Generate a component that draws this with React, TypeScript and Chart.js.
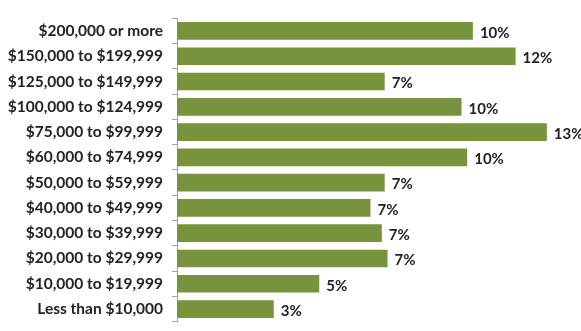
import React, { useEffect, useRef } from "react";
import { Chart, registerables } from "chart.js";

Chart.register(...registerables);

const categories = [
  "$200,000 or more",
  "$150,000 to $199,999",
  "$125,000 to $149,999",
  "$100,000 to $124,999",
  "$75,000 to $99,999",
  "$60,000 to $74,999",
  "$50,000 to $59,999",
  "$40,000 to $49,999",
  "$30,000 to $39,999",
  "$20,000 to $29,999",
  "$10,000 to $19,999",
  "Less than $10,000",
];

const values = [10.4, 11.9, 7.3, 10.0, 13.0, 10.2, 7.3, 6.8, 7.2, 7.4, 5.0, 3.4];

const valueLabels = ["10%", "12%", "7%", "10%", "13%", "10%", "7%", "7%", "7%", "7%", "5%", "3%"];

const xMax = 14.2;

const barLabelPlugin = {
  id: "barLabels",
  afterDatasetsDraw(chart: any) {
    const ctx = chart.ctx;
    const meta = chart.getDatasetMeta(0);
    ctx.save();
    ctx.font = "bold 15px Lato";
    ctx.fillStyle = "#222222";
    ctx.textAlign = "left";
    ctx.textBaseline = "middle";
    meta.data.forEach((bar: any, i: number) => {
      ctx.fillText(valueLabels[i], bar.x + 7, bar.y + 2);
    });
    ctx.restore();
  },
};

export default function App() {
  const ref = useRef<HTMLCanvasElement | null>(null);

  useEffect(() => {
    if (!ref.current) return;
    const chart = new Chart(ref.current, {
      type: "bar",
      data: {
        labels: categories,
        datasets: [
          {
            data: values,
            backgroundColor: "#77933C",
            borderWidth: 0,
            categoryPercentage: 1,
            barPercentage: 0.7,
          },
        ],
      },
      options: {
        indexAxis: "y",
        animation: false,
        responsive: false,
        devicePixelRatio: 1,
        layout: { padding: { top: 5, bottom: 8, left: 0, right: 0 } },
        plugins: {
          legend: { display: false },
          tooltip: { enabled: false },
        },
        scales: {
          x: { display: false, min: 0, max: xMax },
          y: {
            afterFit: (scale: any) => {
              scale.width = 177;
            },
            grid: {
              drawOnChartArea: false,
              offset: true,
              tickLength: 5,
              color: "#a0a0a0",
            },
            border: { color: "#a0a0a0" },
            ticks: {
              padding: 9,
              color: "#222222",
              font: { family: "Lato", size: 15.5, weight: "bold" },
            },
          },
        },
      },
      plugins: [barLabelPlugin],
    });
    return () => chart.destroy();
  }, []);

  return (
    <div
      style={{
        position: "fixed",
        left: 0,
        top: 0,
        width: 581,
        height: 331,
        overflow: "hidden",
        background: "#ffffff",
      }}
    >
      <canvas ref={ref} width={581} height={340} style={{ width: 581, height: 340, display: "block" }} />
    </div>
  );
}
